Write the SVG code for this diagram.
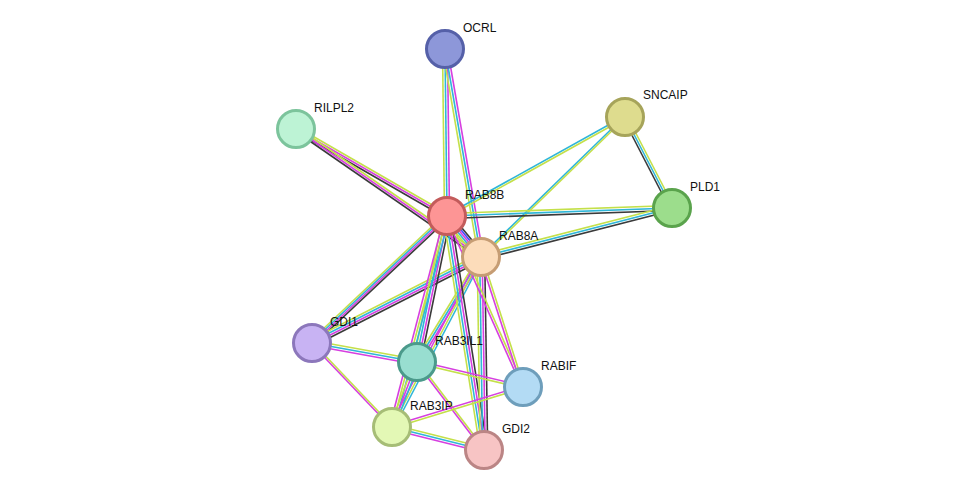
<svg xmlns="http://www.w3.org/2000/svg" width="975" height="496" viewBox="0 0 975 496">
<style>
line{stroke-width:1.6}
.y{stroke:#c4e04a}.c{stroke:#2fb6d8}.m{stroke:#d63fe0}.k{stroke:#3a3a3a}.b{stroke:#4646ff}
circle{stroke-width:3}
text{font-family:"Liberation Sans",Arial,sans-serif;font-size:12px;fill:#111}
</style>
<rect width="975" height="496" fill="#fff"/>
<g id="connectors">
<line class="y" x1="444.5" y1="216" x2="442.5" y2="49"/><line class="c" x1="447" y1="216" x2="445" y2="49"/><line class="m" x1="449.5" y1="216" x2="447.5" y2="49"/>
<line class="y" x1="478.5" y1="257" x2="442.5" y2="49"/><line class="c" x1="481" y1="257" x2="445" y2="49"/><line class="m" x1="483.5" y1="257" x2="447.5" y2="49"/>
<line class="y" x1="447" y1="213.5" x2="296" y2="126.5"/><line class="m" x1="447" y1="216" x2="296" y2="129"/><line class="k" x1="447" y1="218.5" x2="296" y2="131.5"/>
<line class="y" x1="481" y1="254.5" x2="296" y2="126.5"/><line class="m" x1="481" y1="257" x2="296" y2="129"/><line class="k" x1="481" y1="259.5" x2="296" y2="131.5"/>
<line class="c" x1="447" y1="214.8" x2="625" y2="115.8"/><line class="y" x1="447" y1="217.2" x2="625" y2="118.2"/>
<line class="c" x1="479.8" y1="257" x2="623.8" y2="117"/><line class="y" x1="482.2" y1="257" x2="626.2" y2="117"/>
<line class="y" x1="627.5" y1="117" x2="674.5" y2="208"/><line class="c" x1="625" y1="117" x2="672" y2="208"/><line class="k" x1="622.5" y1="117" x2="669.5" y2="208"/>
<line class="y" x1="447" y1="213.5" x2="672" y2="205.5"/><line class="c" x1="447" y1="216" x2="672" y2="208"/><line class="k" x1="447" y1="218.5" x2="672" y2="210.5"/>
<line class="y" x1="481" y1="254.5" x2="672" y2="205.5"/><line class="c" x1="481" y1="257" x2="672" y2="208"/><line class="k" x1="481" y1="259.5" x2="672" y2="210.5"/>
<line class="y" x1="442" y1="216" x2="476" y2="257"/><line class="c" x1="444.5" y1="216" x2="478.5" y2="257"/><line class="m" x1="447" y1="216" x2="481" y2="257"/><line class="b" x1="449.5" y1="216" x2="483.5" y2="257"/><line class="k" x1="452" y1="216" x2="486" y2="257"/>
<line class="y" x1="443.2" y1="216" x2="308.2" y2="343"/><line class="c" x1="445.7" y1="216" x2="310.7" y2="343"/><line class="m" x1="448.2" y1="216" x2="313.2" y2="343"/><line class="k" x1="450.7" y1="216" x2="315.7" y2="343"/>
<line class="y" x1="481" y1="253.2" x2="312" y2="339.2"/><line class="c" x1="481" y1="255.7" x2="312" y2="341.7"/><line class="m" x1="481" y1="258.2" x2="312" y2="344.2"/><line class="k" x1="481" y1="260.7" x2="312" y2="346.7"/>
<line class="y" x1="443.2" y1="216" x2="413.2" y2="362"/><line class="c" x1="445.7" y1="216" x2="415.7" y2="362"/><line class="m" x1="448.2" y1="216" x2="418.2" y2="362"/><line class="k" x1="450.7" y1="216" x2="420.7" y2="362"/>
<line class="y" x1="478.5" y1="257" x2="414.5" y2="362"/><line class="c" x1="481" y1="257" x2="417" y2="362"/><line class="m" x1="483.5" y1="257" x2="419.5" y2="362"/>
<line class="m" x1="444.5" y1="216" x2="389.5" y2="427"/><line class="y" x1="447" y1="216" x2="392" y2="427"/><line class="c" x1="449.5" y1="216" x2="394.5" y2="427"/>
<line class="m" x1="478.5" y1="257" x2="389.5" y2="427"/><line class="y" x1="481" y1="257" x2="392" y2="427"/><line class="c" x1="483.5" y1="257" x2="394.5" y2="427"/>
<line class="y" x1="443.2" y1="216" x2="480.2" y2="450"/><line class="c" x1="445.7" y1="216" x2="482.7" y2="450"/><line class="m" x1="448.2" y1="216" x2="485.2" y2="450"/><line class="k" x1="450.7" y1="216" x2="487.7" y2="450"/>
<line class="y" x1="477.2" y1="257" x2="480.2" y2="450"/><line class="c" x1="479.7" y1="257" x2="482.7" y2="450"/><line class="m" x1="482.2" y1="257" x2="485.2" y2="450"/><line class="k" x1="484.7" y1="257" x2="487.7" y2="450"/>
<line class="m" x1="445.8" y1="216" x2="521.8" y2="387"/><line class="y" x1="448.2" y1="216" x2="524.2" y2="387"/>
<line class="m" x1="479.8" y1="257" x2="521.8" y2="387"/><line class="y" x1="482.2" y1="257" x2="524.2" y2="387"/>
<line class="y" x1="312" y1="340.5" x2="417" y2="359.5"/><line class="c" x1="312" y1="343" x2="417" y2="362"/><line class="m" x1="312" y1="345.5" x2="417" y2="364.5"/>
<line class="m" x1="310.8" y1="343" x2="390.8" y2="427"/><line class="y" x1="313.2" y1="343" x2="393.2" y2="427"/>
<line class="y" x1="414.5" y1="362" x2="389.5" y2="427"/><line class="m" x1="417" y1="362" x2="392" y2="427"/><line class="c" x1="419.5" y1="362" x2="394.5" y2="427"/>
<line class="m" x1="417" y1="360.8" x2="523" y2="385.8"/><line class="y" x1="417" y1="363.2" x2="523" y2="388.2"/>
<line class="m" x1="415.8" y1="362" x2="482.8" y2="450"/><line class="y" x1="418.2" y1="362" x2="485.2" y2="450"/>
<line class="m" x1="392" y1="425.8" x2="523" y2="385.8"/><line class="y" x1="392" y1="428.2" x2="523" y2="388.2"/>
<line class="y" x1="392" y1="424.5" x2="484" y2="447.5"/><line class="c" x1="392" y1="427" x2="484" y2="450"/><line class="m" x1="392" y1="429.5" x2="484" y2="452.5"/>
</g>
<g id="OCRL"><circle cx="445" cy="49" r="18.5" fill="#8d97d9" stroke="#5560a8"/><text x="463" y="32">OCRL</text></g>
<g id="RILPL2"><circle cx="296" cy="129" r="18.5" fill="#bdf3d5" stroke="#7cc49c"/><text x="314" y="112">RILPL2</text></g>
<g id="SNCAIP"><circle cx="625" cy="117" r="18.5" fill="#dedc8e" stroke="#a6a45a"/><text x="643" y="99">SNCAIP</text></g>
<g id="PLD1"><circle cx="672" cy="208" r="18.5" fill="#9cdd8c" stroke="#5aa34c"/><text x="690" y="191">PLD1</text></g>
<g id="RAB8B"><circle cx="447" cy="216" r="18.5" fill="#fd9595" stroke="#c35b5b"/><text x="465" y="199">RAB8B</text></g>
<g id="RAB8A"><circle cx="481" cy="257" r="18.5" fill="#fcdcba" stroke="#c69d74"/><text x="499" y="240">RAB8A</text></g>
<g id="GDI1"><circle cx="312" cy="343" r="18.5" fill="#c8b3f3" stroke="#8c77bb"/><text x="330" y="326">GDI1</text></g>
<g id="RAB3IL1"><circle cx="417" cy="362" r="18.5" fill="#98ded0" stroke="#4b9a8b"/><text x="435" y="345">RAB3IL1</text></g>
<g id="RABIF"><circle cx="523" cy="387" r="18.5" fill="#b3dbf4" stroke="#6e9ebb"/><text x="541" y="370">RABIF</text></g>
<g id="RAB3IP"><circle cx="392" cy="427" r="18.5" fill="#e3f8b5" stroke="#a6bd76"/><text x="410" y="410">RAB3IP</text></g>
<g id="GDI2"><circle cx="484" cy="450" r="18.5" fill="#f7c4c4" stroke="#bb8585"/><text x="502" y="433">GDI2</text></g>
</svg>
